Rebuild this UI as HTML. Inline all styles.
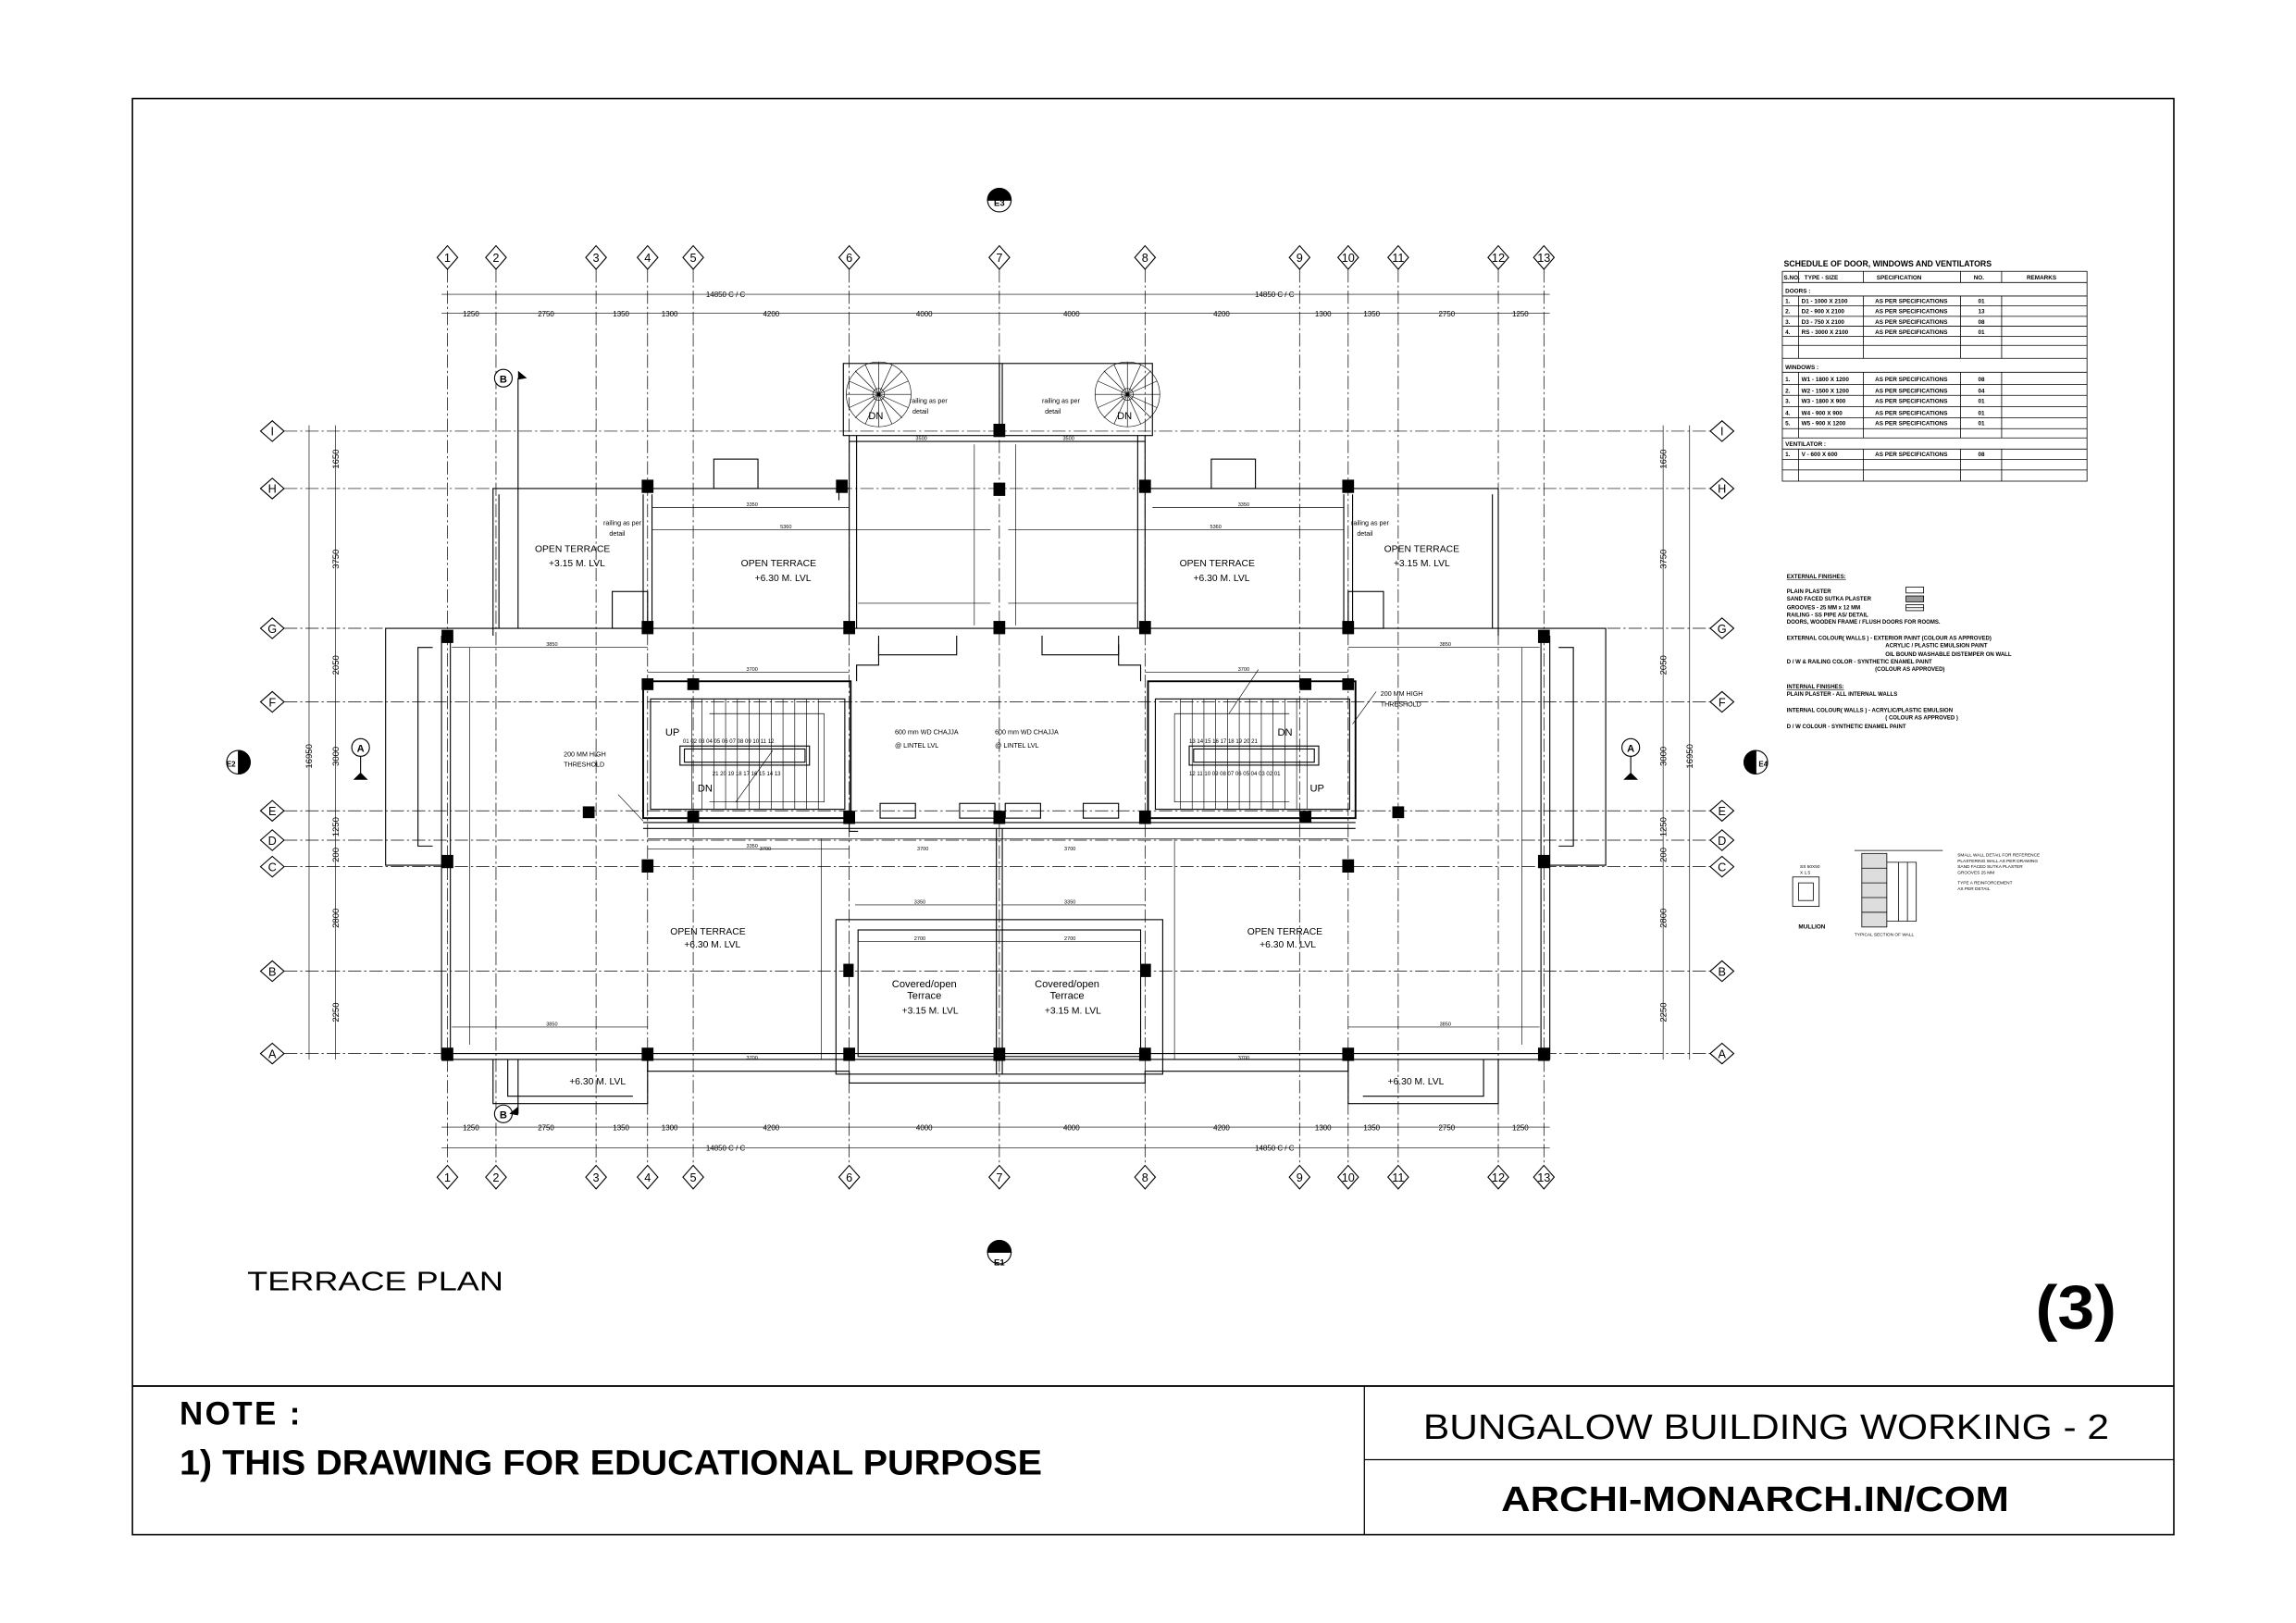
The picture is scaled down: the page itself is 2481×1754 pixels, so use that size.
<!DOCTYPE html>
<html><head><meta charset="utf-8"><style>
html,body{margin:0;padding:0;background:#fff}
svg{display:block}
text{font-family:"Liberation Sans Narrow","Liberation Sans",sans-serif;fill:#000}
.t{font-size:5px}
.s{font-size:3px}
.g{stroke:#000;stroke-width:.45;stroke-dasharray:9 2 1.5 2;fill:none}
.w{stroke:#000;stroke-width:.7;fill:none}
.wb{stroke:#000;stroke-width:1.4;fill:none}
.d{stroke:#000;stroke-width:.4;fill:none}
.c{fill:#000}
</style></head><body>
<svg width="2481" height="1754" viewBox="0 0 1560 1103" preserveAspectRatio="none" xmlns="http://www.w3.org/2000/svg">
<rect x="0" y="0" width="1560" height="1103" fill="#fff"/>
<!-- border & title block -->
<rect x="90" y="67" width="1387" height="976" fill="none" stroke="#000" stroke-width="1"/>
<line x1="90" y1="942" x2="1477" y2="942" stroke="#000" stroke-width="1.2"/>
<line x1="927" y1="942" x2="927" y2="1043" stroke="#000" stroke-width=".8"/>
<line x1="927" y1="992" x2="1477" y2="992" stroke="#000" stroke-width=".8"/>
<text x="122" y="968" font-size="22" font-weight="bold" style="font-family:'Liberation Sans',sans-serif" textLength="82">NOTE :</text>
<text x="122" y="1002" font-size="24" font-weight="bold" style="font-family:'Liberation Sans',sans-serif" textLength="586" lengthAdjust="spacingAndGlyphs">1) THIS DRAWING FOR EDUCATIONAL PURPOSE</text>
<text x="967" y="978" font-size="24" style="font-family:'Liberation Sans',sans-serif" textLength="466" lengthAdjust="spacingAndGlyphs">BUNGALOW BUILDING WORKING - 2</text>
<text x="1020" y="1027" font-size="24" font-weight="bold" style="font-family:'Liberation Sans',sans-serif" textLength="345" lengthAdjust="spacingAndGlyphs">ARCHI-MONARCH.IN/COM</text>
<text x="168" y="877" font-size="18" style="font-family:'Liberation Sans',sans-serif" textLength="174" lengthAdjust="spacingAndGlyphs">TERRACE PLAN</text>
<text x="1383" y="903" font-size="42" font-weight="bold" style="font-family:'Liberation Sans',sans-serif" textLength="55" lengthAdjust="spacingAndGlyphs">(3)</text>

<!-- vertical grid lines -->
<g class="g">
<line x1="304" y1="183" x2="304" y2="792"/><line x1="337" y1="183" x2="337" y2="792"/><line x1="405" y1="183" x2="405" y2="792"/><line x1="440" y1="183" x2="440" y2="792"/><line x1="471" y1="183" x2="471" y2="792"/><line x1="577" y1="183" x2="577" y2="792"/><line x1="679" y1="183" x2="679" y2="792"/><line x1="778" y1="183" x2="778" y2="792"/><line x1="883" y1="183" x2="883" y2="792"/><line x1="916" y1="183" x2="916" y2="792"/><line x1="950" y1="183" x2="950" y2="792"/><line x1="1018" y1="183" x2="1018" y2="792"/><line x1="1049" y1="183" x2="1049" y2="792"/>
<line x1="193" y1="293" x2="1162" y2="293"/><line x1="193" y1="332" x2="1162" y2="332"/><line x1="193" y1="427" x2="1162" y2="427"/><line x1="193" y1="477" x2="1162" y2="477"/><line x1="193" y1="551" x2="1162" y2="551"/><line x1="193" y1="571" x2="1162" y2="571"/><line x1="193" y1="589" x2="1162" y2="589"/><line x1="193" y1="660" x2="1162" y2="660"/><line x1="193" y1="716" x2="1162" y2="716"/>
</g>

<!-- grid bubbles (diamonds) -->
<g fill="#fff" stroke="#000" stroke-width=".7">
<path d="M304 167l7 8-7 8-7-8z"/><path d="M337 167l7 8-7 8-7-8z"/><path d="M405 167l7 8-7 8-7-8z"/><path d="M440 167l7 8-7 8-7-8z"/><path d="M471 167l7 8-7 8-7-8z"/><path d="M577 167l7 8-7 8-7-8z"/><path d="M679 167l7 8-7 8-7-8z"/><path d="M778 167l7 8-7 8-7-8z"/><path d="M883 167l7 8-7 8-7-8z"/><path d="M916 167l7 8-7 8-7-8z"/><path d="M950 167l7 8-7 8-7-8z"/><path d="M1018 167l7 8-7 8-7-8z"/><path d="M1049 167l7 8-7 8-7-8z"/>
<path d="M304 792l7 8-7 8-7-8z"/><path d="M337 792l7 8-7 8-7-8z"/><path d="M405 792l7 8-7 8-7-8z"/><path d="M440 792l7 8-7 8-7-8z"/><path d="M471 792l7 8-7 8-7-8z"/><path d="M577 792l7 8-7 8-7-8z"/><path d="M679 792l7 8-7 8-7-8z"/><path d="M778 792l7 8-7 8-7-8z"/><path d="M883 792l7 8-7 8-7-8z"/><path d="M916 792l7 8-7 8-7-8z"/><path d="M950 792l7 8-7 8-7-8z"/><path d="M1018 792l7 8-7 8-7-8z"/><path d="M1049 792l7 8-7 8-7-8z"/>
<path d="M177 293l8-7 8 7-8 7z"/><path d="M177 332l8-7 8 7-8 7z"/><path d="M177 427l8-7 8 7-8 7z"/><path d="M177 477l8-7 8 7-8 7z"/><path d="M177 551l8-7 8 7-8 7z"/><path d="M177 571l8-7 8 7-8 7z"/><path d="M177 589l8-7 8 7-8 7z"/><path d="M177 660l8-7 8 7-8 7z"/><path d="M177 716l8-7 8 7-8 7z"/>
<path d="M1162 293l8-7 8 7-8 7z"/><path d="M1162 332l8-7 8 7-8 7z"/><path d="M1162 427l8-7 8 7-8 7z"/><path d="M1162 477l8-7 8 7-8 7z"/><path d="M1162 551l8-7 8 7-8 7z"/><path d="M1162 571l8-7 8 7-8 7z"/><path d="M1162 589l8-7 8 7-8 7z"/><path d="M1162 660l8-7 8 7-8 7z"/><path d="M1162 716l8-7 8 7-8 7z"/>
</g>
<g font-size="8" text-anchor="middle">
<text x="304" y="178">1</text><text x="337" y="178">2</text><text x="405" y="178">3</text><text x="440" y="178">4</text><text x="471" y="178">5</text><text x="577" y="178">6</text><text x="679" y="178">7</text><text x="778" y="178">8</text><text x="883" y="178">9</text><text x="916" y="178">10</text><text x="950" y="178">11</text><text x="1018" y="178">12</text><text x="1049" y="178">13</text>
<text x="304" y="803">1</text><text x="337" y="803">2</text><text x="405" y="803">3</text><text x="440" y="803">4</text><text x="471" y="803">5</text><text x="577" y="803">6</text><text x="679" y="803">7</text><text x="778" y="803">8</text><text x="883" y="803">9</text><text x="916" y="803">10</text><text x="950" y="803">11</text><text x="1018" y="803">12</text><text x="1049" y="803">13</text>
<text x="185" y="296">I</text><text x="185" y="335">H</text><text x="185" y="430">G</text><text x="185" y="480">F</text><text x="185" y="554">E</text><text x="185" y="574">D</text><text x="185" y="592">C</text><text x="185" y="663">B</text><text x="185" y="719">A</text>
<text x="1170" y="296">I</text><text x="1170" y="335">H</text><text x="1170" y="430">G</text><text x="1170" y="480">F</text><text x="1170" y="554">E</text><text x="1170" y="574">D</text><text x="1170" y="592">C</text><text x="1170" y="663">B</text><text x="1170" y="719">A</text>
</g>

<!-- dimension lines -->
<g class="d">
<line x1="300" y1="200" x2="1053" y2="200"/><line x1="300" y1="213" x2="1053" y2="213"/>
<line x1="300" y1="766" x2="1053" y2="766"/><line x1="300" y1="780" x2="1053" y2="780"/>
<line x1="210" y1="289" x2="210" y2="720"/><line x1="228" y1="289" x2="228" y2="720"/>
<line x1="1130" y1="289" x2="1130" y2="720"/><line x1="1148" y1="289" x2="1148" y2="720"/>
</g>
<g class="t" font-size="6" text-anchor="middle">
<text x="493" y="202">14850 C / C</text><text x="866" y="202">14850 C / C</text>
<text x="320" y="215">1250</text><text x="371" y="215">2750</text><text x="422" y="215">1350</text><text x="455" y="215">1300</text><text x="524" y="215">4200</text><text x="628" y="215">4000</text><text x="728" y="215">4000</text><text x="830" y="215">4200</text><text x="899" y="215">1300</text><text x="932" y="215">1350</text><text x="983" y="215">2750</text><text x="1033" y="215">1250</text>
<text x="320" y="768">1250</text><text x="371" y="768">2750</text><text x="422" y="768">1350</text><text x="455" y="768">1300</text><text x="524" y="768">4200</text><text x="628" y="768">4000</text><text x="728" y="768">4000</text><text x="830" y="768">4200</text><text x="899" y="768">1300</text><text x="932" y="768">1350</text><text x="983" y="768">2750</text><text x="1033" y="768">1250</text>
<text x="493" y="782">14850 C / C</text><text x="866" y="782">14850 C / C</text>
</g>
<g font-size="6" text-anchor="middle">
<text transform="translate(212,514) rotate(-90)">16950</text><text transform="translate(1150,514) rotate(-90)">16950</text>
<text transform="translate(230,312) rotate(-90)">1650</text><text transform="translate(230,380) rotate(-90)">3750</text><text transform="translate(230,452) rotate(-90)">2050</text><text transform="translate(230,514) rotate(-90)">3000</text><text transform="translate(230,562) rotate(-90)">1250</text><text transform="translate(230,581) rotate(-90)">200</text><text transform="translate(230,624) rotate(-90)">2800</text><text transform="translate(230,688) rotate(-90)">2250</text>
<text transform="translate(1132,312) rotate(-90)">1650</text><text transform="translate(1132,380) rotate(-90)">3750</text><text transform="translate(1132,452) rotate(-90)">2050</text><text transform="translate(1132,514) rotate(-90)">3000</text><text transform="translate(1132,562) rotate(-90)">1250</text><text transform="translate(1132,581) rotate(-90)">200</text><text transform="translate(1132,624) rotate(-90)">2800</text><text transform="translate(1132,688) rotate(-90)">2250</text>
</g>

<!-- walls -->
<g class="w">
<!-- lower main body -->
<line x1="300" y1="427" x2="1053" y2="427"/>
<line x1="300" y1="432" x2="300" y2="720"/><line x1="306" y1="432" x2="306" y2="716"/>
<line x1="1053" y1="432" x2="1053" y2="720"/><line x1="1047" y1="432" x2="1047" y2="716"/>
<line x1="300" y1="716" x2="1053" y2="716"/><line x1="300" y1="720" x2="1053" y2="720"/>
<!-- side projections -->
<polyline points="300,427 262,427 262,588 300,588"/><polyline points="294,440 284,440 284,575 294,575"/>
<polyline points="1053,427 1091,427 1091,588 1053,588"/><polyline points="1059,440 1069,440 1069,575 1059,575"/>
<!-- upper left terrace 3.15 -->
<polyline points="335,432 335,332 440,332"/><line x1="339" y1="336" x2="339" y2="427"/>
<polyline points="440,332 577,332"/><line x1="443" y1="336" x2="443" y2="427"/><line x1="437" y1="336" x2="437" y2="427"/>
<rect x="485" y="312" width="30" height="20"/>
<rect x="416" y="402" width="24" height="25"/>
<!-- center block -->
<rect x="573" y="247" width="210" height="49"/><line x1="679" y1="247" x2="679" y2="296"/><line x1="681" y1="247" x2="681" y2="296"/>
<line x1="577" y1="296" x2="577" y2="427"/><line x1="582" y1="296" x2="582" y2="427"/>
<line x1="778" y1="296" x2="778" y2="427"/><line x1="773" y1="296" x2="773" y2="427"/>
<line x1="577" y1="300" x2="778" y2="300"/>
<polyline points="577,332 570,332 570,340"/>
<polyline points="597,432 597,445 650,445 650,432"/><polyline points="708,432 708,445 760,445 760,432"/>
<!-- upper right terrace -->
<polyline points="778,332 1018,332 1018,432"/><line x1="1014" y1="336" x2="1014" y2="427"/>
<line x1="913" y1="336" x2="913" y2="427"/><line x1="919" y1="336" x2="919" y2="427"/>
<rect x="823" y="312" width="30" height="20"/>
<rect x="916" y="402" width="24" height="25"/>
<!-- stairs boxes -->
<rect x="437" y="463" width="141" height="93" stroke-width="1.2"/>
<rect x="442" y="475" width="132" height="75"/>
<rect x="780" y="463" width="141" height="93" stroke-width="1.2"/>
<rect x="785" y="475" width="132" height="75"/>
<rect x="462" y="507" width="88" height="13"/><rect x="465" y="509" width="82" height="9"/>
<rect x="808" y="507" width="88" height="13"/><rect x="811" y="509" width="82" height="9"/>
<polyline points="582,463 582,452 597,452 597,438"/><polyline points="775,463 775,452 760,452 760,438"/>
<polyline points="577,556 577,565 583,565"/>
<rect x="598" y="546" width="24" height="10"/><rect x="652" y="546" width="24" height="10"/>
<rect x="683" y="546" width="24" height="10"/><rect x="736" y="546" width="24" height="10"/>
<line x1="437" y1="559" x2="921" y2="559"/><line x1="437" y1="563" x2="921" y2="563"/>
<!-- lower covered terrace -->
<rect x="568" y="625" width="222" height="105"/>
<rect x="583" y="632" width="192" height="86"/>
<line x1="677" y1="563" x2="677" y2="730"/><line x1="681" y1="563" x2="681" y2="730"/>
<!-- bottom small terraces -->
<polyline points="335,720 335,750 440,750 440,720"/><polyline points="345,720 345,745 430,745"/>
<polyline points="916,720 916,750 1018,750 1018,720"/><polyline points="926,745 1008,745 1008,720"/>
<polyline points="440,720 440,728 577,728 577,736 778,736 778,728 916,728 916,720"/>
</g>
<!-- stair steps -->
<g class="d">
<path d="M470 475v75M477 475v75M485 475v75M493 475v75M501 475v75M509 475v75M516 475v75M524 475v75M532 475v75M540 475v75M548 475v75M556 475v75"/>
<path d="M888 475v75M881 475v75M873 475v75M865 475v75M857 475v75M849 475v75M842 475v75M834 475v75M826 475v75M818 475v75M810 475v75M802 475v75"/>
<path d="M560 485H482M560 485V545H482"/><path d="M798 485H876M798 485V545H876"/>
<line x1="500" y1="545" x2="525" y2="510"/><line x1="835" y1="485" x2="855" y2="455"/>
<path d="M420 540l17 18M935 470l-16 22"/>
</g>
<!-- spiral stairs -->
<g class="d">
<circle cx="597" cy="268" r="22"/><circle cx="597" cy="268" r="4"/>
<circle cx="766" cy="268" r="22"/><circle cx="766" cy="268" r="4"/>
<path d="M597 246V290M575 268H619M581 252L613 284M613 252L581 284M588 248L606 288M606 248L588 288M577 259L617 277M617 259L577 277"/>
<path d="M766 246V290M744 268H788M750 252L782 284M782 252L750 284M757 248L775 288M775 248L757 288M746 259L786 277M786 259L746 277"/>
</g>
<!-- interior dim lines -->
<g class="d">
<line x1="583" y1="300" x2="673" y2="300"/><line x1="685" y1="300" x2="773" y2="300"/>
<line x1="583" y1="410" x2="673" y2="410"/><line x1="685" y1="410" x2="773" y2="410"/>
<line x1="443" y1="345" x2="577" y2="345"/><line x1="443" y1="360" x2="673" y2="360"/>
<line x1="783" y1="345" x2="913" y2="345"/><line x1="685" y1="360" x2="913" y2="360"/>
<line x1="307" y1="440" x2="440" y2="440"/><line x1="916" y1="440" x2="1046" y2="440"/>
<line x1="440" y1="457" x2="577" y2="457"/><line x1="778" y1="457" x2="916" y2="457"/>
<line x1="440" y1="577" x2="577" y2="577"/><line x1="440" y1="570" x2="916" y2="570"/>
<line x1="581" y1="615" x2="677" y2="615"/><line x1="681" y1="615" x2="778" y2="615"/>
<line x1="583" y1="640" x2="775" y2="640"/>
<line x1="307" y1="698" x2="440" y2="698"/><line x1="916" y1="698" x2="1046" y2="698"/>
<line x1="662" y1="302" x2="662" y2="425"/><line x1="690" y1="302" x2="690" y2="425"/>
<line x1="558" y1="570" x2="558" y2="720"/><line x1="798" y1="570" x2="798" y2="720"/>
<line x1="319" y1="440" x2="319" y2="710"/><line x1="1034" y1="440" x2="1034" y2="710"/>
</g>
<g font-size="3.5" text-anchor="middle">
<text x="626" y="299">3500</text><text x="726" y="299">3500</text>
<text x="511" y="344">3350</text><text x="534" y="359">5360</text><text x="845" y="344">3350</text><text x="826" y="359">5360</text>
<text x="375" y="439">3850</text><text x="982" y="439">3850</text>
<text x="511" y="456">3700</text><text x="845" y="456">3700</text>
<text x="511" y="576">3350</text><text x="625" y="614">3350</text><text x="727" y="614">3350</text>
<text x="625" y="639">2700</text><text x="727" y="639">2700</text>
<text x="375" y="697">3850</text><text x="982" y="697">3850</text>
<text x="511" y="720">3700</text><text x="845" y="720">3700</text>
<text x="520" y="578">3700</text><text x="627" y="578">3700</text><text x="727" y="578">3700</text>
</g>

<!-- columns -->
<g class="c">
<rect x="300" y="428" width="8" height="9"/><rect x="300" y="581" width="8" height="9"/><rect x="300" y="712" width="8" height="9"/>
<rect x="1045" y="428" width="8" height="9"/><rect x="1045" y="581" width="8" height="9"/><rect x="1045" y="712" width="8" height="9"/>
<rect x="436" y="326" width="8" height="9"/><rect x="436" y="422" width="8" height="9"/><rect x="436" y="584" width="8" height="9"/><rect x="436" y="712" width="8" height="9"/>
<rect x="568" y="326" width="8" height="9"/><rect x="573" y="422" width="8" height="9"/><rect x="573" y="551" width="8" height="9"/><rect x="573" y="712" width="8" height="9"/><rect x="573" y="655" width="7" height="9"/>
<rect x="675" y="288" width="8" height="9"/><rect x="675" y="328" width="8" height="9"/><rect x="675" y="422" width="8" height="9"/><rect x="675" y="551" width="8" height="9"/><rect x="675" y="712" width="8" height="9"/>
<rect x="774" y="326" width="8" height="9"/><rect x="774" y="422" width="8" height="9"/><rect x="774" y="551" width="8" height="9"/><rect x="774" y="712" width="8" height="9"/><rect x="775" y="655" width="7" height="9"/>
<rect x="912" y="326" width="8" height="9"/><rect x="912" y="422" width="8" height="9"/><rect x="912" y="584" width="8" height="9"/><rect x="912" y="712" width="8" height="9"/>
<rect x="467" y="461" width="8" height="8"/><rect x="467" y="551" width="8" height="8"/><rect x="883" y="461" width="8" height="8"/><rect x="883" y="551" width="8" height="8"/>
<rect x="436" y="461" width="8" height="8"/><rect x="912" y="461" width="8" height="8"/><rect x="396" y="548" width="8" height="8"/><rect x="946" y="548" width="8" height="8"/>
</g>

<!-- labels -->
<g font-size="6.5" text-anchor="middle">
<text x="389" y="375">OPEN TERRACE</text><text x="392" y="385">+3.15 M. LVL</text>
<text x="529" y="385">OPEN TERRACE</text><text x="532" y="395">+6.30 M. LVL</text>
<text x="827" y="385">OPEN TERRACE</text><text x="830" y="395">+6.30 M. LVL</text>
<text x="966" y="375">OPEN TERRACE</text><text x="966" y="385">+3.15 M. LVL</text>
<text x="481" y="635">OPEN TERRACE</text><text x="484" y="644">+6.30 M. LVL</text>
<text x="873" y="635">OPEN TERRACE</text><text x="875" y="644">+6.30 M. LVL</text>
<text x="628" y="671" font-size="7">Covered/open</text><text x="628" y="679" font-size="7">Terrace</text><text x="632" y="689">+3.15 M. LVL</text>
<text x="725" y="671" font-size="7">Covered/open</text><text x="725" y="679" font-size="7">Terrace</text><text x="729" y="689">+3.15 M. LVL</text>
<text x="406" y="737">+6.30 M. LVL</text><text x="962" y="737">+6.30 M. LVL</text>
</g>
<g font-size="4.5">
<text x="608" y="499">600 mm WD CHAJJA</text><text x="608" y="508">@ LINTEL LVL</text>
<text x="676" y="499">600 mm WD CHAJJA</text><text x="676" y="508">@ LINTEL LVL</text>
<text x="383" y="514">200 MM HIGH</text><text x="383" y="521">THRESHOLD</text>
<text x="938" y="473">200 MM HIGH</text><text x="938" y="480">THRESHOLD</text>
<text x="618" y="274">railing as per</text><text x="620" y="281">detail</text>
<text x="708" y="274">railing as per</text><text x="710" y="281">detail</text>
<text x="410" y="357">railing as per</text><text x="414" y="364">detail</text>
<text x="918" y="357">railing as per</text><text x="922" y="364">detail</text>
</g>
<g font-size="7">
<text x="452" y="500">UP</text><text x="474" y="538">DN</text><text x="868" y="500">DN</text><text x="890" y="538">UP</text>
<text x="590" y="285">DN</text><text x="759" y="285">DN</text>
</g>
<g font-size="3.8">
<text x="464" y="505">01 02 03 04 05 06 07 08 09 10 11 12</text>
<text x="484" y="527">21 20 19 18 17 16 15 14 13</text>
<text x="808" y="505">13 14 15 16 17 18 19 20 21</text>
<text x="808" y="527">12 11 10 09 08 07 06 05 04 03 02 01</text>
</g>

<!-- elevation markers -->
<g stroke="#000" stroke-width=".7">
<circle cx="679" cy="136" r="8" fill="#fff"/><path d="M671 136a8 8 0 0 1 16 0z" fill="#000"/>
<circle cx="679" cy="851" r="8" fill="#fff"/><path d="M671 851a8 8 0 0 1 16 0z" fill="#000"/>
<circle cx="162" cy="518" r="8" fill="#fff"/><path d="M162 510a8 8 0 0 1 0 16z" fill="#000"/>
<circle cx="1193" cy="518" r="8" fill="#fff"/><path d="M1193 510a8 8 0 0 0 0 16z" fill="#000"/>
<circle cx="245" cy="508" r="6" fill="#fff"/><circle cx="1108" cy="508" r="6" fill="#fff"/>
<circle cx="342" cy="257" r="6" fill="#fff"/><circle cx="342" cy="757" r="6" fill="#fff"/>
<line x1="352" y1="257" x2="352" y2="427"/><line x1="352" y1="757" x2="352" y2="720"/>
<line x1="245" y1="514" x2="245" y2="528"/><line x1="1108" y1="514" x2="1108" y2="528"/>
</g>
<path d="M352 252l6 5-6 1z" fill="#000"/><path d="M352 752l-6 5 6 1z" fill="#000"/>
<path d="M240 530h10l-5-5z" fill="#000"/><path d="M1103 530h10l-5-5z" fill="#000"/>
<g font-size="7" font-weight="bold" text-anchor="middle">
<text x="679" y="140" font-size="6">E3</text><text x="679" y="860" font-size="6" fill="#000">E1</text>
<text x="157" y="521" font-size="5">E2</text><text x="1198" y="521" font-size="5">E4</text>
<text x="245" y="511">A</text><text x="1108" y="511">A</text><text x="342" y="260">B</text><text x="342" y="760">B</text>
</g>

<!-- schedule table -->
<text x="1212" y="181" font-size="5.5" font-weight="bold" style="font-family:'Liberation Sans',sans-serif">SCHEDULE OF DOOR, WINDOWS AND VENTILATORS</text>
<g stroke="#000" stroke-width=".5" fill="none">
<rect x="1211" y="184.4" width="207" height="142.6"/>
<path d="M1211 192H1418M1211 201.2H1418M1211 207.9H1418M1211 215H1418M1211 221.7H1418M1211 228.5H1418M1211 234.7H1418M1211 243.5H1418M1211 253H1418M1211 261.2H1418M1211 268.7H1418M1211 276.3H1418M1211 284H1418M1211 291.3H1418M1211 297.6H1418M1211 305.2H1418M1211 312.3H1418M1211 319.4H1418"/>
<path d="M1222 184.4V192M1266 184.4V192M1332 184.4V192M1360 184.4V192"/>
<path d="M1222 201.2V243.5M1266 201.2V243.5M1332 201.2V243.5M1360 201.2V243.5"/>
<path d="M1222 253V297.6M1266 253V297.6M1332 253V297.6M1360 253V297.6"/>
<path d="M1222 305.2V327M1266 305.2V327M1332 305.2V327M1360 305.2V327"/>
</g>
<g font-size="4" font-weight="bold" style="font-family:'Liberation Sans',sans-serif">
<text x="1212" y="190">S.NO.</text><text x="1226" y="190">TYPE - SIZE</text><text x="1275" y="190">SPECIFICATION</text><text x="1341" y="190">NO.</text><text x="1377" y="190">REMARKS</text>
<text x="1213" y="199">DOORS :</text>
<text x="1213" y="206">1.</text><text x="1224" y="206">D1 - 1000 X 2100</text><text x="1274" y="206">AS PER SPECIFICATIONS</text><text x="1344" y="206">01</text>
<text x="1213" y="213">2.</text><text x="1224" y="213">D2 - 900 X 2100</text><text x="1274" y="213">AS PER SPECIFICATIONS</text><text x="1344" y="213">13</text>
<text x="1213" y="220">3.</text><text x="1224" y="220">D3 - 750 X 2100</text><text x="1274" y="220">AS PER SPECIFICATIONS</text><text x="1344" y="220">08</text>
<text x="1213" y="227">4.</text><text x="1224" y="227">RS - 3000 X 2100</text><text x="1274" y="227">AS PER SPECIFICATIONS</text><text x="1344" y="227">01</text>
<text x="1213" y="251">WINDOWS :</text>
<text x="1213" y="259">1.</text><text x="1224" y="259">W1 - 1800 X 1200</text><text x="1274" y="259">AS PER SPECIFICATIONS</text><text x="1344" y="259">08</text>
<text x="1213" y="267">2.</text><text x="1224" y="267">W2 - 1500 X 1200</text><text x="1274" y="267">AS PER SPECIFICATIONS</text><text x="1344" y="267">04</text>
<text x="1213" y="274">3.</text><text x="1224" y="274">W3 - 1800 X 900</text><text x="1274" y="274">AS PER SPECIFICATIONS</text><text x="1344" y="274">01</text>
<text x="1213" y="282">4.</text><text x="1224" y="282">W4 - 900 X 900</text><text x="1274" y="282">AS PER SPECIFICATIONS</text><text x="1344" y="282">01</text>
<text x="1213" y="289">5.</text><text x="1224" y="289">W5 - 900 X 1200</text><text x="1274" y="289">AS PER SPECIFICATIONS</text><text x="1344" y="289">01</text>
<text x="1213" y="303">VENTILATOR :</text>
<text x="1213" y="310">1.</text><text x="1224" y="310">V - 600 X 600</text><text x="1274" y="310">AS PER SPECIFICATIONS</text><text x="1344" y="310">08</text>
</g>
<!-- finishes -->
<g font-size="3.8" font-weight="bold" style="font-family:'Liberation Sans',sans-serif">
<text x="1214" y="393" text-decoration="underline">EXTERNAL FINISHES:</text>
<text x="1214" y="403">PLAIN PLASTER</text><text x="1214" y="408">SAND FACED SUTKA PLASTER</text><text x="1214" y="414">GROOVES - 25 MM x 12 MM</text><text x="1214" y="419">RAILING - SS PIPE AS/ DETAIL</text><text x="1214" y="424">DOORS, WOODEN FRAME / FLUSH DOORS FOR ROOMS.</text>
<text x="1214" y="435">EXTERNAL COLOUR( WALLS ) - EXTERIOR PAINT (COLOUR AS APPROVED)</text>
<text x="1281" y="440">ACRYLIC / PLASTIC EMULSION PAINT</text><text x="1281" y="446">OIL BOUND WASHABLE DISTEMPER ON WALL</text>
<text x="1214" y="451">D / W  &amp; RAILING COLOR  - SYNTHETIC ENAMEL PAINT</text><text x="1274" y="456">(COLOUR AS APPROVED)</text>
<text x="1214" y="468" text-decoration="underline">INTERNAL FINISHES:</text>
<text x="1214" y="473">PLAIN PLASTER - ALL INTERNAL WALLS</text>
<text x="1214" y="484">INTERNAL COLOUR( WALLS ) -  ACRYLIC/PLASTIC EMULSION</text><text x="1281" y="489">( COLOUR AS APPROVED )</text>
<text x="1214" y="495">D / W COLOUR - SYNTHETIC ENAMEL PAINT</text>
</g>
<g stroke="#000" stroke-width=".5" fill="none">
<rect x="1295" y="399" width="12" height="4"/><rect x="1295" y="405" width="12" height="4" fill="#999"/><rect x="1295" y="411" width="12" height="4"/><line x1="1295" y1="413" x2="1307" y2="413"/>
</g>
<!-- mullion detail -->
<g stroke="#000" stroke-width=".5" fill="none">
<rect x="1218" y="596" width="18" height="20"/><rect x="1222" y="600" width="10" height="12"/>
<rect x="1265" y="580" width="17" height="50" fill="#ddd"/><path d="M1265 590h17M1265 600h17M1265 610h17M1265 620h17"/>
<path d="M1282 586h20v40h-20"/><path d="M1290 586v40M1296 586v40"/>
<line x1="1260" y1="578" x2="1320" y2="578"/>
</g>
<g font-size="3" style="font-family:'Liberation Sans',sans-serif">
<text x="1223" y="590">SS 50X50</text><text x="1223" y="594">X 1.5</text><text x="1222" y="631" font-size="4" font-weight="bold">MULLION</text>
<text x="1260" y="636">TYPICAL SECTION OF WALL</text>
<text x="1330" y="582">SMALL WALL DETAIL FOR REFERENCE</text><text x="1330" y="586">PLASTERING WALL AS PER DRAWING</text><text x="1330" y="590">SAND FACED SUTKA PLASTER</text><text x="1330" y="594">GROOVES 25 MM</text><text x="1330" y="601">TYPE A REINFORCEMENT</text><text x="1330" y="605">AS PER DETAIL</text>
</g>
</svg>
</body></html>
